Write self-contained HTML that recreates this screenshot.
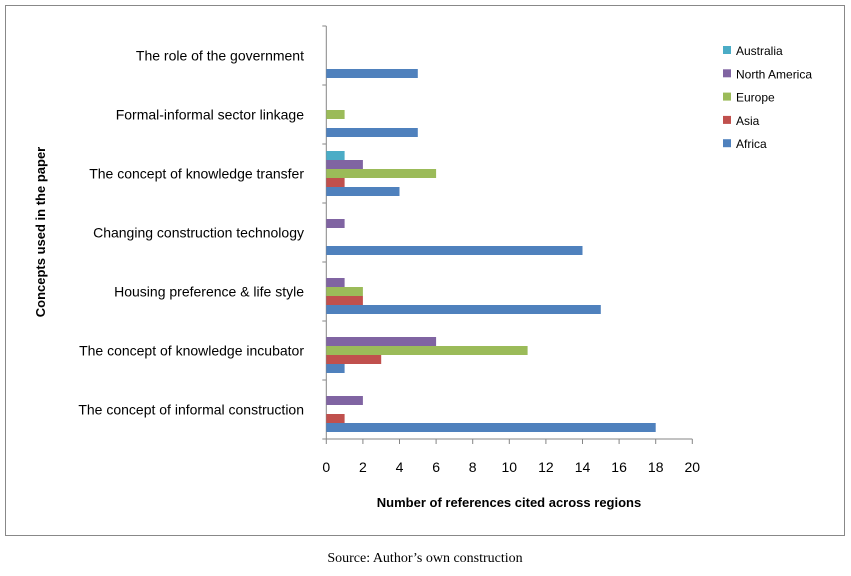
<!DOCTYPE html>
<html><head><meta charset="utf-8"><style>
body{margin:0;background:#fff;width:851px;height:571px;overflow:hidden;font-family:"Liberation Sans",sans-serif}
svg text{font-family:"Liberation Sans",sans-serif}
</style></head><body>
<svg id="c" width="851" height="571">
<rect x="5.5" y="5.5" width="839" height="530" fill="#fff" stroke="#888"/>
<text x="425" y="562" text-anchor="middle" font-size="14" style="font-family:'Liberation Serif',serif">Source: Author’s own construction</text>
<text x="509" y="507" text-anchor="middle" font-size="13" font-weight="bold">Number of references  cited across regions</text>
<text transform="translate(45,232) rotate(-90)" text-anchor="middle" font-size="13" font-weight="bold">Concepts used in the paper</text>
</svg>
<script>
const categories=["The concept of informal construction","The concept of knowledge incubator","Housing preference & life style","Changing construction technology","The concept of knowledge transfer","Formal-informal sector linkage","The role of the government"];
const seriesNames=["Africa","Asia","Europe","North America","Australia"];
const africa=[18,1,15,14,4,5,5];
const asia=[1,3,2,0,1,0,0];
const europe=[0,11,2,0,6,1,0];
const northAmerica=[2,6,1,1,2,0,0];
const australia=[0,0,0,0,1,0,0];
const xTicks=[0,2,4,6,8,10,12,14,16,18,20];
const colors=["#4F81BD","#C0504D","#9BBB59","#8064A2","#4BACC6"];
const series=[africa,asia,europe,northAmerica,australia];
const svg=document.getElementById('c');const NS="http://www.w3.org/2000/svg";
const x0=326.3,x1=692.3,yBot=439,band=59,bh=9;
const xs=v=>x0+(x1-x0)*v/20;
const gc=i=>yBot-band*i-band/2;
function mk(t,a){const e=document.createElementNS(NS,t);for(const k in a)e.setAttribute(k,a[k]);svg.appendChild(e);return e;}
let ax=mk('line',{x1:x0,y1:yBot-band*7,x2:x0,y2:yBot,stroke:'#868686'});


let bx=mk('line',{x1:x0,y1:yBot,x2:x1,y2:yBot,stroke:'#868686'});


xTicks.forEach(t=>{
 const tk=mk('line',{x1:xs(t),y1:yBot,x2:xs(t),y2:yBot+5,stroke:'#868686'});
 
 
 const tl=mk('text',{x:xs(t),y:yBot+33,'text-anchor':'middle','font-size':14});tl.textContent=t;
 
 
});
for(let i=0;i<=7;i++){const tk=mk('line',{x1:x0-4,y1:yBot-band*i,x2:x0,y2:yBot-band*i,stroke:'#868686'});
 
 }
categories.forEach((c,i)=>{
 const tl=mk('text',{x:304,y:gc(i)+5,'text-anchor':'end','font-size':14});tl.textContent=c;
 
 
 series.forEach((s,j)=>{
  if(!s[i])return;
  const top=gc(i)+bh*2.5-bh*(j+1);
  const r=mk('rect',{x:x0,y:top,width:xs(s[i])-x0,height:bh,fill:colors[j]});
  
  
 });
});
const legOrder=[4,3,2,1,0];
legOrder.forEach((j,k)=>{
 const y=51+k*23.3;
 const r=mk('rect',{x:723,y:y-5,width:8,height:8,fill:colors[j]});
 
 
 const t=mk('text',{x:736,y:y+4,'font-size':12});t.textContent=seriesNames[j];
 
 
});
</script>
</body></html>
